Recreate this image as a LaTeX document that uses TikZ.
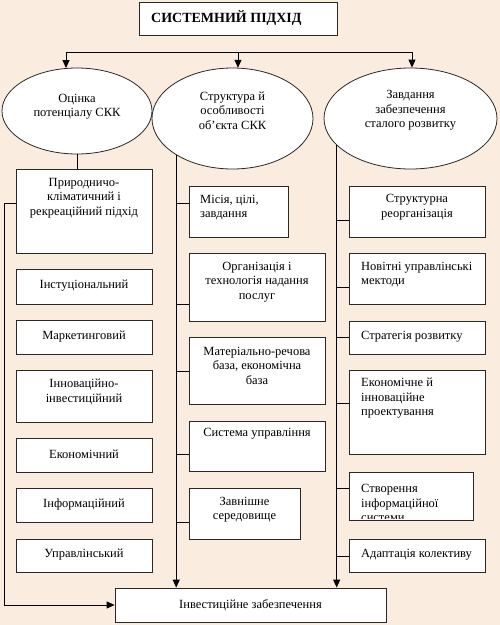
\documentclass[tikz,border=0pt]{standalone}
\usepackage{fontspec}
\setmainfont{Liberation Serif}
\usetikzlibrary{shapes.geometric,arrows.meta}
\definecolor{bgc}{RGB}{250,237,223}
\definecolor{edge}{RGB}{40,40,40}
\newcommand\mybox[5]{\node[box,minimum width={(#4-#2)*1pt},minimum height={(#5-#3)*1pt}] (#1) at ({(#2+#4)/2},{(#3+#5)/2}) {};}
\tikzset{
  box/.style={draw=edge,fill=white,line width=0.8pt,inner sep=0pt,rectangle},
  ell/.style={ellipse,draw=edge,fill=white,line width=0.8pt,inner sep=0pt},
  txt/.style={font=\fontsize{12.5}{14.5}\selectfont,align=center,inner sep=0pt},
  ltxt/.style={font=\fontsize{12.5}{14.5}\selectfont,align=left,inner sep=0pt,anchor=west},
  con/.style={line width=1pt,black},
  arr/.style={con,-{Triangle[length=8pt,width=7pt]}}
}
\begin{document}
\begin{tikzpicture}[x=1pt,y=-1pt]
\useasboundingbox (0,0) rectangle (500,625);
\fill[bgc] (0,0) rectangle (500,625);
% title
\mybox{title}{139}{2}{337}{35}
\node[font=\fontsize{14}{16}\selectfont\bfseries,anchor=west,inner sep=0pt] (titlet) at (151,18) {СИСТЕМНИЙ ПІДХІД};
% ellipses
\node[ell,minimum width=150pt,minimum height=86pt] (e1) at (77,111) {};
\node[ell,minimum width=161pt,minimum height=101pt] (e2) at (232.5,118.5) {};
\node[ell,minimum width=173pt,minimum height=101pt] (e3) at (410.5,118.5) {};
\node[txt] (e1t) at (77,106.5) {Оцінка\\потенціалу СКК};
\node[txt] (e2t) at (232.5,110.5) {Структура й\\особливості\\об'єкта СКК};
\node[txt] (e3t) at (410.5,110.5) {Завдання\\забезпечення\\сталого розвитку};
% top connector
\coordinate (h1) at (66,52);
\coordinate (h2) at (238,52);
\coordinate (h3) at (412,52);
\draw[con] (h1) -- (h3);
\draw[arr] (h1) -- (h1 |- e1.104);
\draw[arr] (h2) -- (h2 |- e2.83);
\draw[arr] (h3) -- (h3 |- e3.89);
% bottom box
\mybox{inv}{115}{588}{386}{622}
\node[txt] (invt) at (250.5,605) {Інвестиційне забезпечення};
% left column
\mybox{p1}{16}{169}{152}{253}
\node[txt] (p1t) at (84,198) {Природничо-\\кліматичний і\\рекреаційний підхід};
\mybox{b1}{16}{269}{152}{304}
\node[txt] (b1t) at (84,285.5) {Інстуціональний};
\mybox{b2}{16}{320}{152}{354}
\node[txt] (b2t) at (84,336.5) {Маркетинговий};
\mybox{b3}{16}{370}{152}{422}
\node[txt] (b3t) at (84,392) {Інноваційно-\\інвестиційний};
\mybox{b4}{16}{438}{152}{472}
\node[txt] (b4t) at (84,454.5) {Економічний};
\mybox{b5}{16}{488}{152}{522}
\node[txt] (b5t) at (84,504.5) {Інформаційний};
\mybox{b6}{16}{539}{152}{572}
\node[txt] (b6t) at (84,555) {Управлінський};
\draw[con] (e1.south) -- (e1.south |- p1.north);
\coordinate (lt) at (4,203);
\coordinate (lb) at (4,605);
\draw[arr] (lt -| p1.west) -- (lt) -- (lb) -- (inv.west);
% middle column
\mybox{m1}{189}{186}{288}{237}
\node[ltxt] (m1t) at (200,207.5) {Місія, цілі,\\завдання};
\mybox{m2}{189}{253}{325}{321}
\node[txt] (m2t) at (257,282) {Організація і\\технологія надання\\послуг};
\mybox{m3}{189}{337}{325}{404}
\node[txt] (m3t) at (257,365.5) {Матеріально-речова\\база, економічна\\база};
\mybox{m4}{189}{421}{325}{471}
\node[txt] (m4t) at (257,434) {Система управління};
\mybox{m5}{189}{488}{300}{539}
\node[txt] (m5t) at (244.5,509.5) {Завнішне\\середовище};
\draw[arr] (e2.213) -- (e2.213 |- inv.north);
\coordinate (s1) at (176,203);
\coordinate (s2) at (176,304);
\coordinate (s3) at (176,371);
\coordinate (s4) at (176,454);
\coordinate (s5) at (176,522);
\foreach \s/\b in {s1/m1,s2/m2,s3/m3,s4/m4,s5/m5} \draw[con] (\s) -- (\s -| \b.west);
% right column
\mybox{r1}{349}{186}{485}{237}
\node[txt] (r1t) at (417,207) {Структурна\\реорганізація};
\mybox{r2}{349}{253}{485}{304}
\node[ltxt] (r2t) at (361,274.5) {Новітні управлінські\\мектоди};
\mybox{r3}{349}{321}{485}{354}
\node[ltxt] (r3t) at (361,337) {Стратегія розвитку};
\mybox{r4}{349}{370}{485}{454}
\node[ltxt] (r4t) at (361,398.5) {Економічне й\\інноваційне\\проектування};
\mybox{r5}{349}{472}{473}{520}
\begin{scope}
\clip (349,472) rectangle (473,518.6);
\node[ltxt] (r5t) at (361,503) {Створення\\інформаційної\\системи};
\end{scope}
\draw[draw=edge,line width=0.8pt] (r5.south west) -- (r5.south east);
\mybox{r6}{349}{539}{485}{572}
\node[ltxt] (r6t) at (361,555) {Адаптація колективу};
\draw[arr] (e3.200) -- (e3.200 |- inv.north);
\coordinate (q1) at (337,220);
\coordinate (q2) at (337,287);
\coordinate (q3) at (337,337);
\coordinate (q4) at (337,403);
\coordinate (q5) at (337,488);
\coordinate (q6) at (337,556);
\foreach \s/\b in {q1/r1,q2/r2,q3/r3,q4/r4,q5/r5,q6/r6} \draw[con] (\s) -- (\s -| \b.west);
\end{tikzpicture}
\end{document}
